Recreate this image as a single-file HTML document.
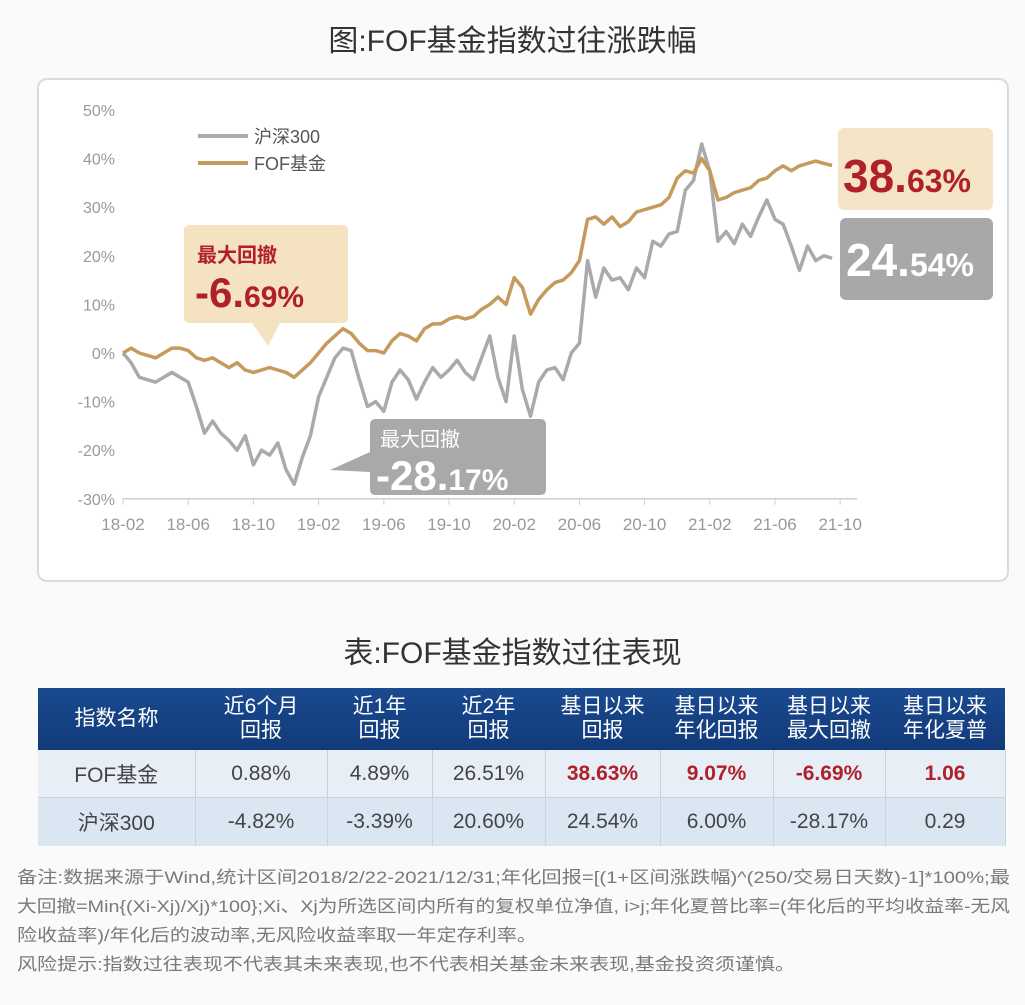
<!DOCTYPE html>
<html><head><meta charset="utf-8">
<style>
body{margin:0;width:1025px;height:1005px;background:#fafafa;font-family:"Liberation Sans","Noto Sans CJK SC",sans-serif;position:relative;overflow:hidden}
.t{position:absolute;left:0;width:1025px;text-align:center;font-size:30px;color:#333}
#frame{position:absolute;left:37px;top:78px;width:968px;height:500px;border:2px solid #d3dde6;border-radius:10px;background:#fff}
table{position:absolute;left:38px;top:688px;border-collapse:collapse;font-size:21px;color:#444}
td,th{text-align:center;padding:0}
th{background:linear-gradient(#1a4a8f,#123a7a);color:#fff;font-weight:normal;height:62px;line-height:24px;font-size:21px}
tr.r1 td{background:#e8eef6;height:47px;border-right:1px solid #c8d3e2}
tr.r2 td{background:#dbe6f3;height:48px;border-right:1px solid #c8d3e2;border-top:1px solid #c8d3e2}
.red{color:#b0202a;font-weight:bold}
</style></head><body>
<div class="t" style="top:16px">图:FOF基金指数过往涨跌幅</div>
<div id="frame"></div>
<svg id="chart" width="1025" height="600" style="position:absolute;left:0;top:0"></svg>
<div class="t" style="top:628px">表:FOF基金指数过往表现</div>
<table>
<tr><th style="width:157px">指数名称</th><th style="width:132px">近6个月<br>回报</th><th style="width:105px">近1年<br>回报</th><th style="width:113px">近2年<br>回报</th><th style="width:115px">基日以来<br>回报</th><th style="width:113px">基日以来<br>年化回报</th><th style="width:112px">基日以来<br>最大回撤</th><th style="width:120px">基日以来<br>年化夏普</th></tr>
<tr class="r1"><td>FOF基金</td><td>0.88%</td><td>4.89%</td><td>26.51%</td><td class="red">38.63%</td><td class="red">9.07%</td><td class="red">-6.69%</td><td class="red">1.06</td></tr>
<tr class="r2"><td>沪深300</td><td>-4.82%</td><td>-3.39%</td><td>20.60%</td><td>24.54%</td><td>6.00%</td><td>-28.17%</td><td>0.29</td></tr>
</table>
<svg width="1025" height="140" style="position:absolute;left:0;top:855px" font-size="17" fill="#7a7a7a" font-family="Liberation Sans, Noto Sans CJK SC, sans-serif">
<text x="17" y="28" textLength="993" lengthAdjust="spacingAndGlyphs">备注:数据来源于Wind,统计区间2018/2/22-2021/12/31;年化回报=[(1+区间涨跌幅)^(250/交易日天数)-1]*100%;最</text>
<text x="17" y="57" textLength="993" lengthAdjust="spacingAndGlyphs">大回撤=Min{(Xi-Xj)/Xj)*100};Xi、Xj为所选区间内所有的复权单位净值, i&gt;j;年化夏普比率=(年化后的平均收益率-无风</text>
<text x="17" y="86" textLength="520" lengthAdjust="spacingAndGlyphs">险收益率)/年化后的波动率,无风险收益率取一年定存利率。</text>
<text x="17" y="115" textLength="778" lengthAdjust="spacingAndGlyphs">风险提示:指数过往表现不代表其未来表现,也不代表相关基金未来表现,基金投资须谨慎。</text>
</svg>
<script>
const yTicks=[50,40,30,20,10,0,-10,-20,-30];
const xTicks=["18-02","18-06","18-10","19-02","19-06","19-10","20-02","20-06","20-10","21-02","21-06","21-10"];
const hs300=[0,-2,-5,-5.5,-6,-5,-4,-5,-6,-11,-16.5,-14,-16.5,-18,-20,-17,-23,-20,-21,-18.5,-24,-27,-21.5,-17,-9,-5,-1,1,0.5,-5.5,-11,-10,-12,-6,-3.5,-5.5,-9.5,-6,-3,-5,-3.5,-1.5,-4,-5.5,-1,3.5,-5,-10,3.5,-7.5,-13,-6,-3.5,-3,-5.5,0,2,19,11.5,17.5,15,15.5,13,17.5,15.5,23,22,24.5,25,33.5,35.5,43,37.5,23,25,22.5,26.5,24,28,31.5,27.5,26.5,22,17,22,19,20,19.5];
const fof=[0,1,0,-0.5,-1,0,1,1,0.5,-1,-1.5,-1,-2,-3,-2,-3.5,-4,-3.5,-3,-3.5,-4,-5,-3.5,-2,0,2,3.5,5,4,2,0.5,0.5,0,2.5,4,3.5,2.5,5,6,6,7,7.5,7,7.5,9,10,11.5,10,15.5,13.5,8,11,13,14.5,15,16.5,19,27.5,28,26.5,28,26,27,29,29.5,30,30.5,32,36,37.5,37,40,37.5,31.5,32,33,33.5,34,35.5,36,37.5,38.5,37.5,38.5,39,39.5,39,38.6];
const NS="http://www.w3.org/2000/svg",svg=document.getElementById('chart');
const yS=v=>353-v*4.86, xS=i=>123+i*8.15; // i = half-month index from 18-02
function mk(t,a,txt){const e=document.createElementNS(NS,t);for(const k in a)e.setAttribute(k,a[k]);if(txt!==undefined)e.textContent=txt;svg.appendChild(e);return e;}
function big(x,y,a,b,s1,s2,c){const e=mk('text',{x:x,y:y,'font-size':s1,fill:c,'font-weight':'bold'},a);const sp=document.createElementNS(NS,'tspan');sp.textContent=b;sp.setAttribute('font-size',s2);e.appendChild(sp);return e;}
yTicks.forEach(v=>{const e=mk('text',{x:115,y:yS(v)+6,'text-anchor':'end','font-size':16,fill:'#999'},v+'%');

});
const ax=mk('line',{x1:123,x2:857,y1:yS(-30),y2:yS(-30),stroke:'#ccd',"stroke-width":1.5});


xTicks.forEach((t,k)=>{const x=xS(k*8);mk('line',{x1:x,x2:x,y1:yS(-30),y2:yS(-30)+6,stroke:'#ccd'});
const e=mk('text',{x:x,y:530,'text-anchor':'middle','font-size':17,fill:'#999'},t);

});
function line(d,c,n){const p=mk('polyline',{points:d.map((v,i)=>xS(i)+','+yS(v)).join(' '),fill:'none',stroke:c,'stroke-width':3.5,'stroke-linejoin':'round'});

}
line(hs300,'#a9aaae','hs300-line');
line(fof,'#c59a5c','fof-line');
mk('line',{x1:198,x2:248,y1:136,y2:136,stroke:'#a9aaae','stroke-width':4});
mk('text',{x:254,y:143,'font-size':18,fill:'#555'},'沪深300');
mk('line',{x1:198,x2:248,y1:163,y2:163,stroke:'#c59a5c','stroke-width':4});
mk('text',{x:254,y:170,'font-size':18,fill:'#555'},'FOF基金');
const g1=mk('path',{d:'M189 225 H343 a5 5 0 0 1 5 5 V318 a5 5 0 0 1 -5 5 H280 L268 346 L252 323 H189 a5 5 0 0 1 -5 -5 V230 a5 5 0 0 1 5 -5Z',fill:'#f5e2c1'});

mk('text',{x:197,y:262,'font-size':20,fill:'#b0202a','font-weight':'bold'},'最大回撤');
big(195,307,'-6.','69%',42,30,'#b0202a');
const g2=mk('path',{d:'M375 419 H541 a5 5 0 0 1 5 5 V490 a5 5 0 0 1 -5 5 H375 a5 5 0 0 1 -5 -5 V472 L330 470 L370 452 V424 a5 5 0 0 1 5 -5Z',fill:'#a9a9a9'});

mk('text',{x:380,y:446,'font-size':20,fill:'#fff'},'最大回撤');
big(376,490,'-28.','17%',42,30,'#fff');
const b1=mk('rect',{x:838,y:128,width:155,height:82,rx:6,fill:'#f6e4c6'});

big(843,192,'38.','63%',46,32,'#b0202a');
const b2=mk('rect',{x:840,y:218,width:153,height:82,rx:6,fill:'#a8a8a8'});

big(846,276,'24.','54%',46,32,'#fff');
</script>
</body></html>
